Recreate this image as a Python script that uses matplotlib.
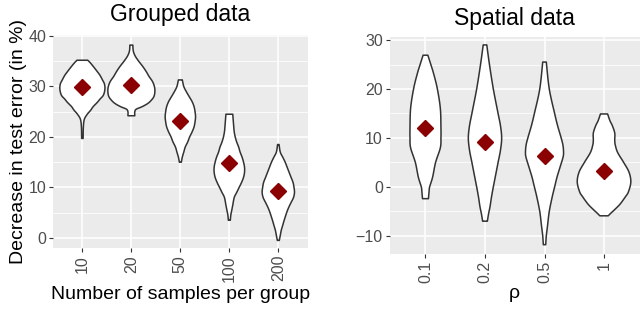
import numpy as np
import matplotlib.pyplot as plt

plt.rcParams['font.family'] = ['Liberation Sans', 'DejaVu Sans']

# Grouped data: violin outlines as (value, half width in category units)
grouped_labels = ['10', '20', '50', '100', '200']
grouped_means = [29.8, 30.2, 23.2, 14.8, 9.2]
grouped_y = [
    [19.7, 22.0, 23.5, 24.5, 25.3, 26.0, 26.8, 27.5, 28.3, 29.5, 30.5, 31.3, 32.2, 33.0, 34.0, 34.7, 35.2],
    [24.2, 25.0, 25.5, 26.0, 26.6, 27.2, 28.0, 29.0, 30.0, 31.0, 32.0, 33.0, 34.0, 35.0, 36.0, 37.0, 38.2],
    [15.0, 16.0, 17.0, 18.0, 19.0, 20.0, 21.0, 22.0, 23.0, 24.0, 25.0, 26.0, 27.0, 28.0, 29.0, 30.0, 31.3],
    [3.5, 4.5, 5.5, 6.5, 8.0, 9.0, 10.0, 11.0, 12.0, 13.0, 14.0, 15.0, 16.0, 17.0, 18.0, 19.0, 20.0, 21.0, 22.0, 24.5],
    [-0.5, 0.5, 1.5, 2.5, 3.5, 5.0, 6.0, 7.0, 8.0, 9.0, 10.0, 11.0, 12.0, 13.0, 14.0, 15.0, 16.0, 17.0, 18.5],
]
grouped_w = [
    [0.015, 0.02, 0.04, 0.10, 0.17, 0.22, 0.30, 0.36, 0.43, 0.46, 0.45, 0.41, 0.36, 0.30, 0.22, 0.16, 0.11],
    [0.07, 0.07, 0.10, 0.22, 0.33, 0.40, 0.46, 0.48, 0.47, 0.43, 0.36, 0.30, 0.23, 0.15, 0.08, 0.04, 0.03],
    [0.02, 0.04, 0.07, 0.10, 0.15, 0.19, 0.24, 0.28, 0.30, 0.31, 0.30, 0.28, 0.24, 0.18, 0.12, 0.07, 0.04],
    [0.02, 0.03, 0.05, 0.07, 0.10, 0.15, 0.20, 0.25, 0.29, 0.31, 0.31, 0.29, 0.26, 0.22, 0.19, 0.15, 0.12, 0.10, 0.09, 0.07],
    [0.02, 0.04, 0.06, 0.09, 0.12, 0.17, 0.21, 0.26, 0.31, 0.33, 0.32, 0.30, 0.26, 0.22, 0.18, 0.14, 0.09, 0.04, 0.015],
]

# Spatial data
spatial_labels = ['0.1', '0.2', '0.5', '1']
spatial_means = [12.0, 9.2, 6.3, 3.3]
spatial_y = [
    [-2.4, -1.0, 0.0, 2.0, 5.0, 8.0, 10.0, 12.0, 16.0, 20.0, 23.0, 25.0, 26.9],
    [-7.0, -5.5, -4.0, -2.0, 0.0, 2.5, 5.0, 7.5, 10.0, 12.5, 15.0, 20.0, 25.0, 29.0],
    [-11.8, -10.0, -8.0, -5.0, -2.0, 0.0, 2.0, 4.0, 6.0, 7.0, 8.5, 10.0, 12.5, 15.0, 20.0, 25.5],
    [-5.9, -5.3, -4.5, -3.5, -2.0, -1.0, 1.0, 3.0, 5.0, 7.0, 8.5, 9.5, 11.0, 12.5, 13.5, 14.9],
]
spatial_w = [
    [0.05, 0.06, 0.07, 0.12, 0.17, 0.25, 0.26, 0.26, 0.25, 0.20, 0.14, 0.09, 0.04],
    [0.04, 0.06, 0.085, 0.11, 0.14, 0.18, 0.22, 0.26, 0.28, 0.26, 0.22, 0.14, 0.075, 0.03],
    [0.02, 0.03, 0.05, 0.08, 0.13, 0.17, 0.21, 0.26, 0.31, 0.32, 0.31, 0.28, 0.22, 0.17, 0.08, 0.03],
    [0.07, 0.12, 0.19, 0.27, 0.36, 0.41, 0.45, 0.42, 0.33, 0.23, 0.19, 0.18, 0.18, 0.14, 0.10, 0.06],
]

BG = '#EBEBEB'
TICK = '#4D4D4D'


def smooth_outline(y, w, n=12):
    # catmull-rom through the outline points, just so the edge isn't jagged
    y = np.asarray(y, float)
    w = np.asarray(w, float)
    py = np.concatenate([[y[0]], y, [y[-1]]])
    pw = np.concatenate([[w[0]], w, [w[-1]]])
    out_y, out_w = [], []
    t = np.linspace(0, 1, n, endpoint=False)
    for k in range(1, len(py) - 2):
        for arr, out in ((py, out_y), (pw, out_w)):
            p0, p1, p2, p3 = arr[k - 1], arr[k], arr[k + 1], arr[k + 2]
            out.extend(0.5 * (2 * p1 + (-p0 + p2) * t
                              + (2 * p0 - 5 * p1 + 4 * p2 - p3) * t ** 2
                              + (-p0 + 3 * p1 - 3 * p2 + p3) * t ** 3))
    out_y.append(y[-1])
    out_w.append(w[-1])
    return np.array(out_y), np.clip(np.array(out_w), 0.005, None)


def style_axes(ax, ylim, major, minor, ncat, labels):
    ax.set_facecolor(BG)
    ax.set_xlim(0.4, ncat + 0.6)
    ax.set_ylim(*ylim)
    ax.set_yticks(major)
    ax.set_yticks(minor, minor=True)
    ax.set_xticks(range(1, ncat + 1))
    ax.set_xticklabels(labels, rotation=90)
    ax.grid(True, which='major', color='white', lw=1.1)
    ax.grid(True, which='minor', axis='y', color='white', lw=0.55)
    ax.set_axisbelow(True)
    for s in ax.spines.values():
        s.set_visible(False)
    ax.tick_params(which='major', length=3, color='#333333', labelcolor=TICK,
                   labelsize=11.5, pad=2)
    ax.tick_params(which='minor', length=0)


def draw_violins(ax, ys, ws, means):
    for i, (yv, wv) in enumerate(zip(ys, ws)):
        c = i + 1
        yv, wv = smooth_outline(yv, wv)
        xs = np.concatenate([c + wv, (c - wv)[::-1]])
        yy = np.concatenate([yv, yv[::-1]])
        ax.fill(xs, yy, facecolor='white', edgecolor='#333333', lw=1.1,
                joinstyle='round', zorder=2)
    ax.plot(range(1, len(means) + 1), means, 'D', color='#8B0000',
            ms=8.5, mec='#8B0000', zorder=3, linestyle='none')


fig = plt.figure(figsize=(6.4, 3.13), dpi=100)
ax1 = fig.add_axes([0.0828, 0.2077, 0.398, 0.6805])
ax2 = fig.add_axes([0.609, 0.1885, 0.3906, 0.693])

style_axes(ax1, (-2, 40.2), [0, 10, 20, 30, 40], [5, 15, 25, 35], 5, grouped_labels)
draw_violins(ax1, grouped_y, grouped_w, grouped_means)
ax1.set_title('Grouped data', fontsize=16.5, pad=10)
ax1.set_xlabel('Number of samples per group', fontsize=14, labelpad=3)
ax1.set_ylabel('Decrease in test error (in %)', fontsize=14, labelpad=1)

style_axes(ax2, (-13.7, 30.6), [-10, 0, 10, 20, 30], [-5, 5, 15, 25], 4, spatial_labels)
draw_violins(ax2, spatial_y, spatial_w, spatial_means)
ax2.set_title('Spatial data', fontsize=16.5, pad=9)
ax2.set_xlabel('ρ', fontsize=14, labelpad=1)

fig.savefig('out.png', dpi=100)
